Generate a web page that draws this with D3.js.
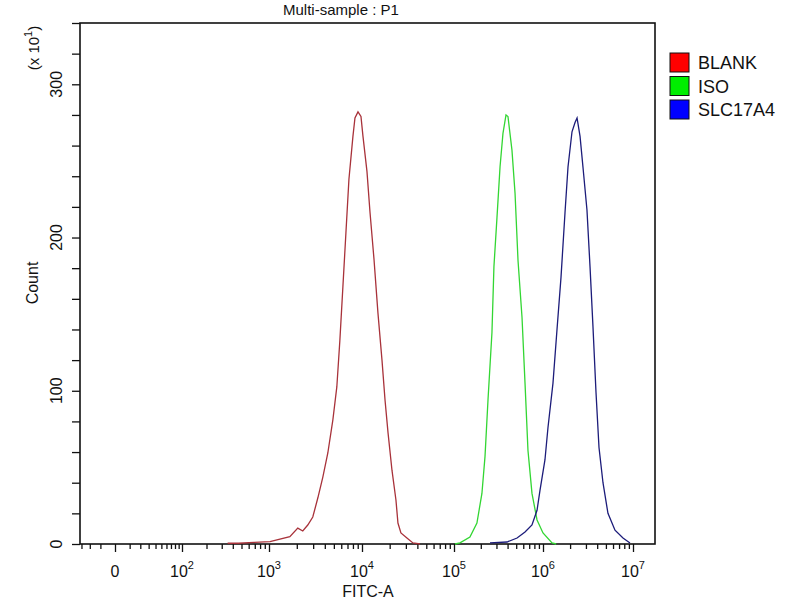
<!DOCTYPE html>
<html>
<head>
<meta charset="utf-8">
<script src="https://cdn.jsdelivr.net/npm/d3@7/dist/d3.min.js"></script>
<style>
body { margin: 0; background: #fff; }
text { font-family: "Liberation Sans", Arial, sans-serif; fill: #111; }
</style>
</head>
<body>
<div></div>
<script>
var width = 800;
var height = 600;

// FITC-A values and counts (axis units, x10^1)
var blankX = [350, 464, 690, 1025, 1683, 2050, 2320, 2625, 2972, 3365, 3810, 4310, 4880, 5380, 5800, 6250, 6730, 7250, 8000, 8410, 9060, 9750, 10250, 11330, 12200, 13500, 14900, 16500, 17800, 19200, 21200, 23400, 24600, 26500, 30800, 35800, 42700];
var blankY = [0.5, 0.5, 1, 1.5, 4.8, 10.4, 8.5, 12.4, 17.6, 30, 43.7, 59.4, 81, 102.5, 133, 168, 203, 238, 266, 278, 282, 279, 266, 243, 217, 186, 151, 120, 94, 72.5, 48, 28.7, 13.7, 7.2, 3.9, 0.7, 0];
var isoX = [102600, 116800, 151000, 181000, 206000, 223000, 241000, 267000, 281000, 304000, 329000, 355000, 384000, 404000, 448000, 485000, 524000, 581000, 628000, 678000, 752000, 857000, 1000000, 1260000, 1400000];
var isoY = [0, 0.7, 4.6, 13.7, 33, 57, 94, 138, 181, 213, 246, 268, 280, 279, 257, 229, 185, 148, 105, 61, 33, 15.7, 7.2, 0.7, 0];
var slcX = [254000, 394000, 511000, 628000, 752000, 857000, 925000, 1052000, 1136000, 1291000, 1431000, 1585000, 1755000, 1896000, 2100000, 2270000, 2390000, 2580000, 2780000, 3080000, 3330000, 3590000, 3880000, 4190000, 4640000, 5270000, 6310000, 7740000, 9260000];
var slcY = [0.7, 1.3, 3.9, 7.8, 12.4, 22, 35, 55, 76, 105, 140, 174, 216, 246, 269, 275, 278, 266, 246, 218, 181, 142, 99, 63, 40, 20, 9, 3.9, 0.7];

var seriesNames = ["BLANK", "ISO", "SLC17A4"];
var majorTicks = [0, 1e2, 1e3, 1e4, 1e5, 1e6, 1e7];
var majorExp = [null, 2, 3, 4, 5, 6, 7];
var yLabels = [0, 100, 200, 300];

var lineColors = ["#a8323a", "#33d633", "#1c1c7a"];
var boxColors = ["#ff0000", "#00ee00", "#0000ff"];

var svg = d3.select("div")
    .append("svg")
    .attr("width", width)
    .attr("height", height);

// biexponential-like display axis
var x = d3.scaleSymlog()
    .constant(22)
    .domain([-32, 0, 1e2, 1e3, 1e4, 1e5, 1e6, 1e7, 1.75e7])
    .range([80, 115, 182, 269, 362, 454, 543, 633, 655]);
var y = d3.scaleLinear().domain([0, 340]).range([544, 23]);

// minor ticks
var minorTicks = [-30, -20, -10];
for (var k = 1; k <= 9; k++) minorTicks.push(k * 10);
for (var p = 2; p <= 6; p++)
    for (var m = 2; m <= 9; m++) minorTicks.push(m * Math.pow(10, p));

var gx = svg.append("g").attr("transform", "translate(0,544)");
gx.call(d3.axisBottom(x).tickValues(minorTicks).tickSize(5).tickFormat(""));
gx.select(".domain").remove();
var gx2 = svg.append("g").attr("transform", "translate(0,544)");
gx2.call(d3.axisBottom(x).tickValues(majorTicks).tickSize(8).tickFormat(""));
gx2.select(".domain").remove();
svg.selectAll(".tick line").attr("stroke", "#111").attr("stroke-width", 1.3);

majorTicks.forEach(function (v, i) {
    var t = svg.append("text")
        .attr("x", x(v))
        .attr("y", 577)
        .attr("text-anchor", "middle")
        .style("font-size", "16px");
    if (majorExp[i] == null) {
        t.text("0");
    } else {
        t.append("tspan").text("10");
        t.append("tspan").attr("dy", -8).style("font-size", "11px").text(majorExp[i]);
    }
});

var gy = svg.append("g").attr("transform", "translate(80,0)");
gy.call(d3.axisLeft(y).tickValues(d3.range(0, 341, 20)).tickSize(8).tickFormat(""));
gy.select(".domain").remove();
gy.selectAll(".tick line").attr("stroke", "#111").attr("stroke-width", 1.3);

yLabels.forEach(function (v) {
    svg.append("text")
        .attr("transform", "translate(62," + y(v) + ") rotate(-90)")
        .attr("text-anchor", "middle")
        .style("font-size", "16px")
        .text(v);
});

// frame
svg.append("rect")
    .attr("x", 80).attr("y", 23)
    .attr("width", 575).attr("height", 521)
    .attr("fill", "none")
    .attr("stroke", "#111")
    .attr("stroke-width", 1.6);

// curves
var line = d3.line()
    .x(function (d) { return x(d[0]); })
    .y(function (d) { return y(d[1]); });

[[blankX, blankY], [isoX, isoY], [slcX, slcY]].forEach(function (s, i) {
    svg.append("path")
        .datum(d3.zip(s[0], s[1]))
        .attr("d", line)
        .attr("fill", "none")
        .attr("stroke", lineColors[i])
        .attr("stroke-width", 1.3);
});

// titles
svg.append("text")
    .attr("x", 283).attr("y", 15)
    .style("font-size", "15px")
    .text("Multi-sample : P1");

svg.append("text")
    .attr("x", 368).attr("y", 597)
    .attr("text-anchor", "middle")
    .style("font-size", "16px")
    .text("FITC-A");

svg.append("text")
    .attr("transform", "translate(38,283) rotate(-90)")
    .attr("text-anchor", "middle")
    .style("font-size", "16px")
    .text("Count");

var sc = svg.append("text")
    .attr("transform", "translate(39,48) rotate(-90)")
    .attr("text-anchor", "middle")
    .style("font-size", "15px");
sc.append("tspan").text("(x 10");
sc.append("tspan").attr("dy", -7).style("font-size", "11px").text("1");
sc.append("tspan").attr("dy", 7).text(")");

// legend
seriesNames.forEach(function (name, i) {
    var yy = 53 + i * 23.5;
    svg.append("rect")
        .attr("x", 670).attr("y", yy)
        .attr("width", 19).attr("height", 19)
        .attr("fill", boxColors[i])
        .attr("stroke", "#111")
        .attr("stroke-width", 1);
    svg.append("text")
        .attr("x", 698).attr("y", yy + 16)
        .style("font-size", "18px")
        .text(name);
});
</script>
</body>
</html>
